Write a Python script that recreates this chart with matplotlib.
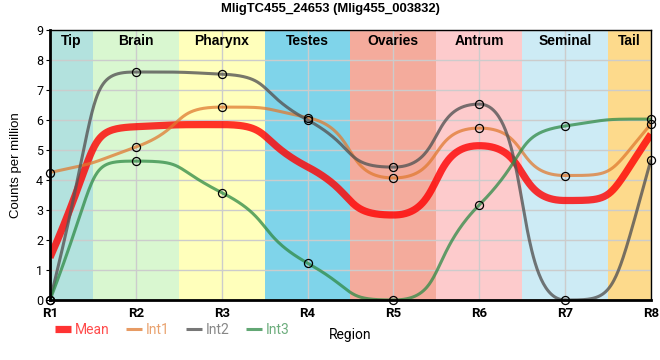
import numpy as np
import matplotlib
matplotlib.use('Agg')
import matplotlib.pyplot as plt
from matplotlib.lines import Line2D

# data
regions = ['R1', 'R2', 'R3', 'R4', 'R5', 'R6', 'R7', 'R8']
int1 = [4.25, 5.10, 6.43, 6.08, 4.07, 5.73, 4.15, 5.87]
int2 = [0.00, 7.60, 7.53, 6.00, 4.43, 6.53, 0.00, 4.68]
int3 = [0.00, 4.63, 3.58, 1.23, 0.00, 3.17, 5.80, 6.03]
mean = list(np.mean([int1, int2, int3], axis=0))

tissues = ['Tip', 'Brain', 'Pharynx', 'Testes', 'Ovaries', 'Antrum', 'Seminal', 'Tail']
tissue_colors = ['#b3e2de', '#d9f7d0', '#ffffbb', '#7fd4ea',
                 '#f4ab9c', '#fdcbcc', '#cdebf5', '#fdda8c']

K = 0.6  # horizontal reach of the bezier handles, as a share of the step


def end_slope(s0, s1):
    d = (3 * s0 - s1) / 2
    if np.sign(d) != np.sign(s0):
        return 0.0
    if np.sign(s0) != np.sign(s1) and abs(d) > abs(3 * s0):
        return 3 * s0
    return d


def handle(t, step):
    # shorten the handle so it never overshoots the next value
    if t == 0:
        return K
    return min(K, abs(step) / abs(t))


def smooth(y, n=80):
    # monotone slopes, drawn as cubic beziers with long flat handles
    y = np.asarray(y, float)
    s = np.diff(y)
    t = np.zeros(len(y))
    for i in range(1, len(y) - 1):
        s0, s1 = s[i - 1], s[i]
        if s0 * s1 > 0:
            t[i] = 2 / (1 / s0 + 1 / s1)
    t[0] = end_slope(s[0], s[1])
    t[-1] = end_slope(s[-1], s[-2])
    u = np.linspace(0, 1, n)[:, None]
    xs, ys = [], []
    for i in range(len(y) - 1):
        a = handle(t[i], s[i])
        b = handle(t[i + 1], s[i])
        p = np.array([[i, y[i]], [i + a, y[i] + a * t[i]],
                      [i + 1 - b, y[i + 1] - b * t[i + 1]], [i + 1, y[i + 1]]])
        c = ((1 - u)**3 * p[0] + 3 * u * (1 - u)**2 * p[1]
             + 3 * u**2 * (1 - u) * p[2] + u**3 * p[3])
        xs.append(c[:, 0])
        ys.append(c[:, 1])
    return np.concatenate(xs), np.concatenate(ys)


fig = plt.figure(figsize=(6.6, 3.6), dpi=100)
ax = fig.add_axes([50 / 660, 60 / 360, 601 / 660, 270 / 360])

x = np.arange(len(regions))
for i, (name, col) in enumerate(zip(tissues, tissue_colors)):
    ax.axvspan(max(i - 0.5, 0), min(i + 0.5, 7), color=col, lw=0, zorder=0.1)
    ax.text(i if 0 < i < 7 else (0.25 if i == 0 else 6.75), 8.63, name,
            ha='center', va='center', fontsize=10, fontweight='bold',
            family='Liberation Sans', zorder=5)

series = [('Mean', mean, '#ff0000', 5.2, 0.8),
          ('Int1', int1, '#e07a30', 2.2, 0.75),
          ('Int2', int2, '#555555', 2.2, 0.8),
          ('Int3', int3, '#2e8a45', 2.2, 0.75)]
handles = []
for name, vals, col, lw, a in series:
    cx, cy = smooth(vals)
    ax.plot(cx, cy, color=col, lw=lw, alpha=a, solid_capstyle='butt', zorder=2)
    handles.append(Line2D([], [], color=col, lw=lw, alpha=a, solid_capstyle='butt'))
    if name != 'Mean':
        ax.plot(x, vals, 'o', ms=5.8, mfc='none', mec='black', mew=0.9,
                zorder=4, clip_on=False)

ax.set_xlim(0, 7)
ax.set_ylim(0, 9)
ax.set_xticks(x)
ax.set_xticklabels(regions, fontsize=9.5, fontweight='bold', family='Roboto')
ax.set_yticks(range(10))
ax.set_yticklabels([str(v) for v in range(10)], fontsize=9, family='Roboto')
ax.tick_params(axis='x', length=0, pad=5)
ax.tick_params(axis='y', length=3, pad=2)
ax.set_axisbelow(True)
ax.grid(True, color='#cccccc', lw=1)
for side in ['left', 'bottom']:
    ax.spines[side].set_linewidth(2)
for side in ['top', 'right']:
    ax.spines[side].set_linewidth(1)
ax.set_ylabel('Counts per million', fontsize=9.5, family='Liberation Sans', labelpad=10)
ax.set_xlabel('Region', fontsize=10, family='Roboto', labelpad=6)

leg = ax.legend(handles, [s[0] for s in series], loc='center left',
                bbox_to_anchor=(-0.012, -0.111), ncol=4, frameon=False,
                handlelength=1.15, handletextpad=0.25, columnspacing=1.2,
                prop={'family': 'Roboto', 'size': 10})
for txt, s in zip(leg.get_texts(), series):
    txt.set_color(s[2])
    txt.set_alpha(0.7)

fig.text(0.5, 1 - 9 / 360, 'MligTC455_24653 (Mlig455_003832)', ha='center',
         va='center', fontsize=9.4, fontweight='bold', family='Liberation Sans')

fig.savefig('out.png', dpi=100)
